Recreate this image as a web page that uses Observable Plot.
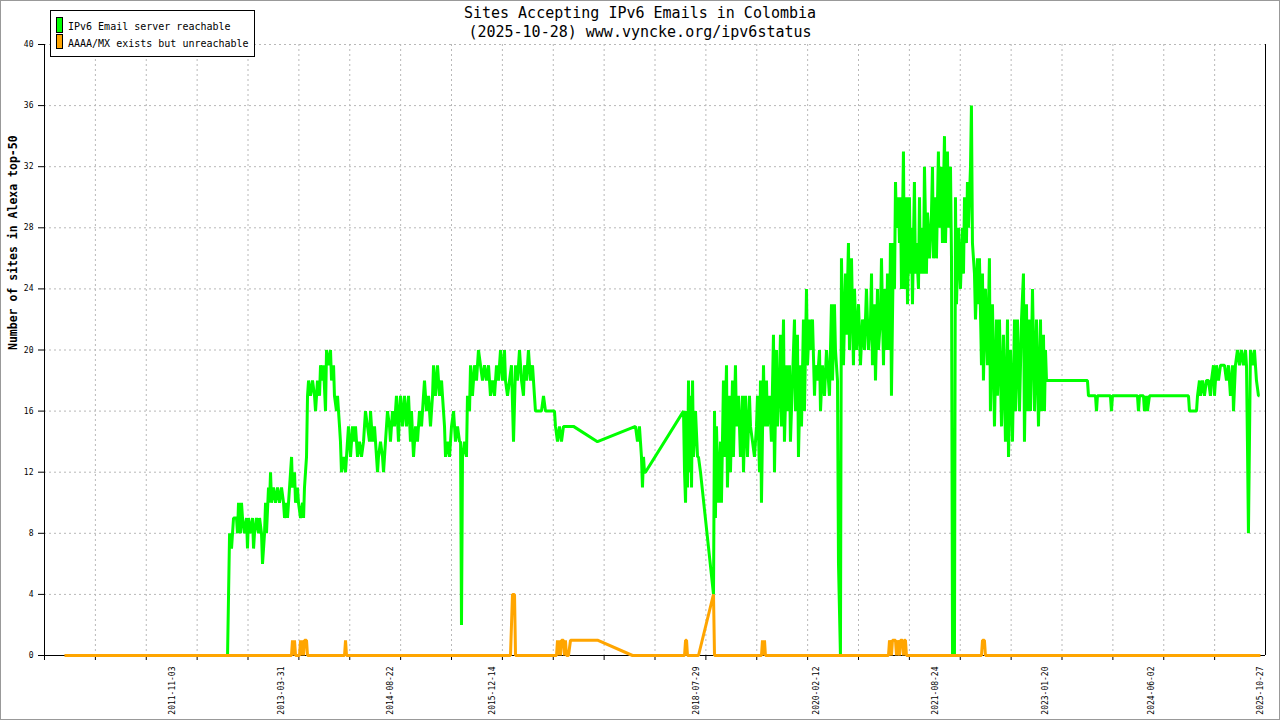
<!DOCTYPE html>
<html>
<head>
<meta charset="utf-8">
<script src="https://cdn.jsdelivr.net/npm/d3@7"></script>
<script src="https://cdn.jsdelivr.net/npm/@observablehq/plot@0.6"></script>
<style>
  html, body { margin: 0; padding: 0; background: #fff; }
  #wrap { position: relative; width: 1280px; height: 720px; overflow: hidden; font-family: "DejaVu Sans Mono", monospace; background: #fff; }
  #chart { position: absolute; left: 0; top: 0; }
  #frame { position: absolute; left: 0; top: 0; width: 1280px; height: 720px; box-sizing: border-box; border: 1px solid #999; pointer-events: none; }
  .title { position: absolute; left: 0; width: 1280px; text-align: center; font-size: 15px; line-height: 17px; color: #000; white-space: pre; }
  #legendBox { position: absolute; left: 50px; top: 10px; width: 205px; height: 47px; box-sizing: border-box; border: 1px solid #000; background: #fff; }
  .sw { position: absolute; left: 56px; width: 7px; box-sizing: border-box; border: 1px solid #000; }
  .lt { position: absolute; left: 68px; font-size: 10px; line-height: 13px; color: #000; white-space: pre; }
</style>
</head>
<body>
<div id="wrap">
  <div id="chart"></div>
  <div class="title" id="t1" style="top:5px"></div>
  <div class="title" id="t2" style="top:24px"></div>
  <div id="legendBox"></div>
  <div id="frame"></div>
</div>
<script>
// ---------------- data ----------------
const titleLines = ["Sites Accepting IPv6 Emails in Colombia", "(2025-10-28) www.vyncke.org/ipv6status"];
const yTitle = "Number of sites in Alexa top-50";
const seriesNames = ["IPv6 Email server reachable", "AAAA/MX exists but unreachable"];
const seriesColors = ["#00ff00", "#ffa500"];
const yTicks = [0, 4, 8, 12, 16, 20, 24, 28, 32, 36, 40];
const dateLabels = ["2011-11-03", "2013-03-31", "2014-08-22", "2015-12-14", "2018-07-29", "2020-02-12", "2021-08-24", "2023-01-20", "2024-06-02", "2025-10-27"];
const xDomain = [2010.2016, 2025.880]; // decimal years shown on the axis

// [decimal year, number of sites]
const reachable = [
[2012.552,0],[2012.565,4],[2012.578,8],[2012.603,7],[2012.629,9],[2012.667,9],[2012.680,8],[2012.693,10],[2012.719,8],[2012.731,10],
[2012.744,9],[2012.770,8],[2012.796,9],[2012.808,7],[2012.821,9],[2012.847,8],[2012.873,9],[2012.886,7],[2012.898,8],[2012.924,9],
[2012.950,8],[2012.963,9],[2012.988,8],[2013.001,6],[2013.027,8],[2013.040,10],[2013.052,8],[2013.078,11],[2013.091,10],[2013.104,12],
[2013.117,10],[2013.142,11],[2013.168,10],[2013.194,11],[2013.219,10],[2013.245,11],[2013.271,10],[2013.284,9],[2013.309,10],[2013.322,9],
[2013.348,11],[2013.361,12],[2013.374,13],[2013.386,11],[2013.412,12],[2013.425,10],[2013.450,11],[2013.463,10],[2013.489,9],[2013.515,10],
[2013.528,9],[2013.540,11],[2013.553,12],[2013.566,13],[2013.579,17],[2013.592,18],[2013.617,17],[2013.643,18],[2013.669,17],[2013.682,16],
[2013.707,18],[2013.733,17],[2013.746,19],[2013.771,18],[2013.784,19],[2013.810,16],[2013.823,20],[2013.848,19],[2013.874,20],[2013.887,18],
[2013.913,19],[2013.925,17],[2013.951,16],[2013.964,17],[2013.990,15],[2014.002,14],[2014.015,12],[2014.041,13],[2014.067,12],[2014.092,14],
[2014.105,15],[2014.131,13],[2014.157,15],[2014.169,14],[2014.195,15],[2014.221,13],[2014.246,14],[2014.272,13],[2014.298,14],[2014.323,16],
[2014.349,15],[2014.375,14],[2014.388,16],[2014.413,14],[2014.439,15],[2014.452,14],[2014.478,12],[2014.490,13],[2014.516,14],[2014.542,13],
[2014.555,12],[2014.580,14],[2014.606,16],[2014.632,15],[2014.644,14],[2014.670,16],[2014.696,15],[2014.721,17],[2014.747,14],[2014.760,16],
[2014.773,17],
[2014.799,15],[2014.824,17],[2014.850,15],[2014.876,17],[2014.901,14],[2014.914,16],[2014.940,13],[2014.966,15],[2014.991,14],[2015.017,16],
[2015.043,15],[2015.068,17],[2015.081,18],[2015.107,16],[2015.133,17],[2015.158,15],[2015.184,17],[2015.197,19],[2015.222,17],[2015.248,19],
[2015.274,17],[2015.300,18],[2015.312,17],[2015.338,15],[2015.351,13],[2015.377,14],[2015.402,13],[2015.428,15],[2015.454,16],[2015.479,14],
[2015.505,15],[2015.531,14],[2015.544,14],[2015.556,2],[2015.569,13],[2015.595,14],[2015.620,13],[2015.633,17],[2015.659,16],[2015.672,19],
[2015.697,17],[2015.723,19],[2015.749,18],[2015.774,20],[2015.800,19],[2015.826,18],[2015.851,19],[2015.877,18],[2015.903,19],[2015.928,17],
[2015.954,18],[2015.980,17],[2016.006,19],[2016.031,18],[2016.057,20],[2016.083,18],[2016.108,20],[2016.121,18],[2016.147,17],[2016.173,18],
[2016.198,19],[2016.224,14],[2016.250,19],[2016.275,18],[2016.301,20],[2016.327,18],[2016.352,17],[2016.365,19],[2016.391,18],[2016.416,20],
[2016.442,18],[2016.468,19],[2016.493,17],[2016.506,16],
[2016.583,16],[2016.609,17],[2016.635,16],[2016.750,16],[2016.763,15],[2016.789,14],[2016.814,15],[2016.840,14],[2016.866,15],[2016.994,15],
[2017.302,14],[2017.790,15],[2017.816,14],[2017.841,15],[2017.854,14],[2017.867,13],[2017.880,11],[2017.893,13],[2017.906,12],[2017.918,12],
[2018.407,16],[2018.420,12],[2018.433,10],[2018.446,16],[2018.458,11],[2018.471,18],[2018.484,12],[2018.497,17],[2018.510,11],[2018.523,18],
[2018.535,13],[2018.561,16],[2018.587,13],[2018.599,13],[2018.625,12],[2018.792,4],
[2018.805,16],[2018.817,9],[2018.830,15],[2018.856,10],[2018.882,14],[2018.894,10],[2018.920,18],[2018.933,13],[2018.959,19],[2018.971,11],
[2018.997,17],[2019.010,12],[2019.036,18],[2019.048,13],[2019.074,19],[2019.087,15],[2019.113,17],[2019.138,13],[2019.164,17],[2019.177,12],
[2019.203,17],[2019.228,13],[2019.254,17],[2019.267,15],[2019.293,14],[2019.318,13],[2019.344,15],[2019.357,17],[2019.383,12],[2019.395,18],
[2019.408,10],[2019.434,19],[2019.447,15],[2019.472,18],[2019.485,15],[2019.511,17],[2019.536,14],[2019.562,21],[2019.575,12],[2019.601,20],
[2019.613,15],[2019.639,18],[2019.652,21],[2019.665,15],[2019.691,22],[2019.703,14],[2019.729,19],[2019.742,16],[2019.768,19],[2019.780,14],
[2019.806,18],[2019.832,22],[2019.845,16],[2019.870,21],[2019.883,13],[2019.909,19],[2019.922,15],[2019.947,22],[2019.960,16],[2019.986,24],
[2019.999,19],[2020.024,22],[2020.037,20],[2020.063,22],[2020.089,17],[2020.101,19],[2020.127,18],[2020.153,20],[2020.166,16],[2020.191,19],
[2020.217,17],[2020.243,20],[2020.268,18],[2020.281,17],[2020.307,23],[2020.320,18],[2020.345,23],[2020.358,20],[2020.384,18],[2020.397,6],
[2020.422,0],[2020.435,26],[2020.461,19],[2020.487,25],[2020.499,21],[2020.525,27],[2020.538,20],[2020.564,26],[2020.589,19],[2020.602,24],
[2020.628,20],[2020.654,23],[2020.679,19],[2020.705,22],[2020.731,20],[2020.756,24],[2020.782,20],[2020.808,22],
[2020.821,25],[2020.833,19],[2020.859,23],[2020.872,18],[2020.898,24],[2020.910,20],[2020.936,22],[2020.949,26],[2020.975,19],[2020.987,24],
[2021.013,20],[2021.026,25],[2021.052,20],[2021.064,27],[2021.077,17],[2021.103,27],[2021.116,24],[2021.129,31],[2021.142,28],[2021.167,30],
[2021.180,27],[2021.193,30],[2021.206,24],[2021.231,33],[2021.244,24],[2021.270,30],[2021.283,23],[2021.308,30],[2021.321,25],[2021.334,28],
[2021.347,23],[2021.372,31],[2021.385,25],[2021.398,27],[2021.424,24],[2021.437,30],[2021.449,25],[2021.475,28],[2021.488,25],[2021.501,32],
[2021.526,25],[2021.539,29],[2021.565,26],[2021.591,29],[2021.604,32],[2021.616,26],[2021.642,30],[2021.655,26],[2021.680,33],[2021.693,28],
[2021.719,32],[2021.732,27],[2021.758,34],[2021.771,27],[2021.796,33],[2021.809,28],[2021.835,32],[2021.848,26],[2021.861,0],[2021.886,0],
[2021.899,30],[2021.912,23],[2021.938,28],[2021.963,24],[2021.989,28],[2022.002,25],[2022.015,30],[2022.040,27],[2022.053,31],[2022.066,28],
[2022.092,32],[2022.104,36],[2022.117,27],[2022.143,25],[2022.156,22],[2022.181,26],[2022.194,23],[2022.207,26],[2022.233,19],[2022.246,25],
[2022.258,18],[2022.284,24],[2022.310,19],[2022.335,26],[2022.348,16],[2022.374,23],[2022.400,15],[2022.425,22],[2022.438,17],[2022.464,22],
[2022.490,15],[2022.515,21],[2022.541,14],[2022.567,22],[2022.580,13],[2022.605,20],[2022.631,14],[2022.657,22],[2022.670,16],[2022.695,22],
[2022.721,16],[2022.747,22],[2022.772,25],[2022.785,14],[2022.811,23],[2022.824,16],[2022.849,22],[2022.862,16],[2022.888,24],[2022.914,16],
[2022.939,22],[2022.965,15],[2022.991,22],[2023.003,16],[2023.029,21],[2023.042,16],[2023.055,20],[2023.068,18],[2023.093,18],
[2023.594,18],[2023.607,17],[2023.697,17],[2023.710,16],[2023.722,17],[2023.889,17],[2023.902,16],[2023.915,17],[2024.236,17],[2024.249,16],
[2024.262,17],[2024.313,17],[2024.326,16],[2024.352,17],[2024.364,16],[2024.390,17],[2024.891,17],[2024.904,16],[2024.994,16],[2025.007,17],
[2025.032,18],[2025.045,17],[2025.071,18],[2025.096,17],[2025.122,18],[2025.148,18],[2025.173,17],[2025.186,18],[2025.212,19],[2025.225,17],
[2025.250,19],[2025.276,18],[2025.302,19],[2025.353,19],[2025.379,18],[2025.404,19],[2025.430,17],[2025.456,19],[2025.469,16],[2025.494,19],
[2025.520,20],[2025.546,19],[2025.571,20],[2025.597,19],[2025.623,20],[2025.636,19],[2025.648,14],[2025.661,8],[2025.674,14],[2025.687,20],
[2025.713,19],[2025.738,20],[2025.764,18],[2025.790,17],[2025.802,17]
];

const unreachable = [
[2010.458,0],[2013.373,0],[2013.386,1],[2013.399,0],[2013.412,1],[2013.425,0],[2013.476,0],[2013.489,1],[2013.502,0],[2013.515,1],
[2013.528,0],[2013.540,1],[2013.566,1],[2013.579,0],[2014.054,0],[2014.067,1],[2014.080,0],[2016.185,0],[2016.198,2],[2016.211,4],
[2016.237,4],[2016.250,0],[2016.776,0],[2016.789,1],[2016.802,0],[2016.814,1],[2016.827,0],[2016.840,1],[2016.866,1],[2016.879,0],
[2016.891,1],[2016.904,0],[2016.930,0],[2016.956,1],[2017.302,1],[2017.752,0],[2018.420,0],[2018.433,1],[2018.446,1],[2018.458,0],
[2018.599,0],[2018.792,4],[2018.805,0],[2019.408,0],[2019.421,1],[2019.434,0],[2019.447,1],[2019.459,0],[2021.039,0],[2021.052,1],
[2021.077,0],[2021.090,1],[2021.129,1],[2021.142,0],[2021.155,1],[2021.180,0],[2021.193,1],[2021.219,1],[2021.231,0],[2021.244,1],
[2021.257,1],[2021.270,0],[2022.233,0],[2022.246,1],[2022.271,1],[2022.284,0],[2025.815,0]
];

// ---------------- helpers ----------------
function toYear(s) {
  const d = Date.parse(s + "T00:00:00Z");
  const y = +s.slice(0, 4);
  const a = Date.UTC(y, 0, 1), b = Date.UTC(y + 1, 0, 1);
  return y + (d - a) / (b - a);
}
const labelYears = dateLabels.map(toYear);
const labelMap = new Map(labelYears.map((v, i) => [v, dateLabels[i]]));
const xTicks = d3.range(24).map(i => xDomain[0] + i * (xDomain[1] - xDomain[0]) / 24);
const gridColor = "#b8b8b8";

const chart = Plot.plot({
  width: 1280,
  height: 720,
  marginTop: 44,
  marginBottom: 65,
  marginLeft: 44,
  marginRight: 15,
  style: { fontFamily: '"DejaVu Sans Mono", monospace', background: "transparent", maxWidth: "none", overflow: "visible", color: "#000" },
  x: { type: "linear", domain: xDomain },
  y: { domain: [0, 40] },
  marks: [
    Plot.ruleY(yTicks.slice(1), { stroke: gridColor, strokeDasharray: "2,3" }),
    Plot.ruleX(xTicks.slice(1), { stroke: gridColor, strokeDasharray: "2,3" }),
    Plot.ruleX([xDomain[0], xDomain[1]], { stroke: "#000" }),
    Plot.ruleY([0], { stroke: "#000" }),
    Plot.axisY({ ticks: yTicks, tickSize: 6, tickPadding: 5, fontSize: 8, label: null, tickFormat: d => String(d) }),
    Plot.axisX({ ticks: xTicks, tickSize: 5, tickFormat: () => "", label: null }),
    Plot.axisX({ ticks: labelYears, tickSize: 0, tickRotate: -90, tickPadding: 11, fontSize: 8, label: null, tickFormat: d => labelMap.get(d) }),
    Plot.line(reachable, { x: d => d[0], y: d => d[1], stroke: seriesColors[0], strokeWidth: 3, strokeLinejoin: "bevel", strokeLinecap: "butt" }),
    Plot.line(unreachable, { x: d => d[0], y: d => d[1], stroke: seriesColors[1], strokeWidth: 3, strokeLinejoin: "bevel", strokeLinecap: "butt" }),
    Plot.text([yTitle], { text: d => d, frameAnchor: "left", dx: -31, rotate: -90, fontWeight: "bold", fontSize: 11.5 })
  ]
});
document.getElementById("chart").appendChild(chart);

document.getElementById("t1").textContent = titleLines[0];
document.getElementById("t2").textContent = titleLines[1];

const wrap = document.getElementById("wrap");
const swTops = [17, 34], swH = [16, 15], txtTops = [19.5, 36.5];
seriesNames.forEach((name, i) => {
  const sw = document.createElement("div");
  sw.className = "sw";
  sw.style.top = swTops[i] + "px";
  sw.style.height = swH[i] + "px";
  sw.style.background = seriesColors[i];
  wrap.insertBefore(sw, document.getElementById("frame"));
  const t = document.createElement("div");
  t.className = "lt";
  t.style.top = txtTops[i] + "px";
  t.textContent = name;
  wrap.insertBefore(t, document.getElementById("frame"));
});
</script>
</body>
</html>
